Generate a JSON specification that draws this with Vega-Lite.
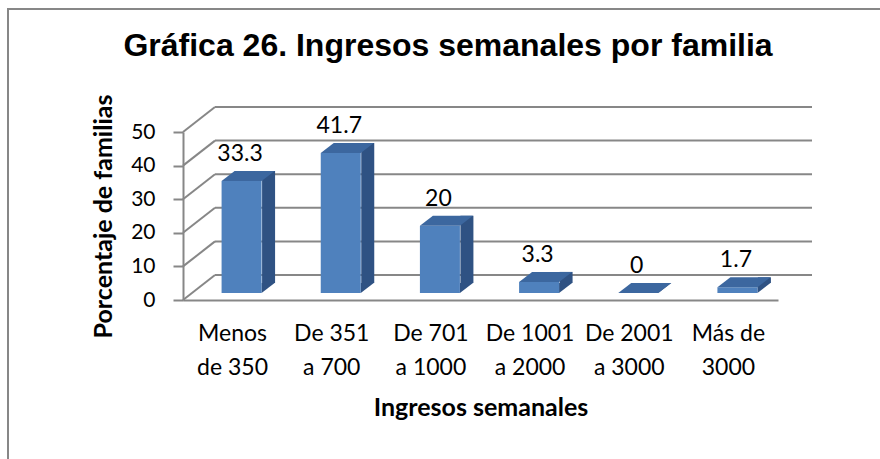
{
  "$schema": "https://vega.github.io/schema/vega-lite/v6.json",
  "width": 872,
  "height": 450,
  "autosize": {"type": "none"},
  "padding": {"left": 8, "top": 9, "right": 0, "bottom": 0},
  "background": "white",
  "config": {
    "view": {"stroke": "#878787", "strokeWidth": 2, "strokeDash": [872, 1322, 450]},
    "font": "Lato"
  },
  "title": {
    "text": "Gráfica 26. Ingresos semanales por familia",
    "font": "Liberation Sans",
    "fontSize": 32,
    "fontWeight": "bold",
    "color": "#000000",
    "anchor": "middle",
    "frame": "group",
    "baseline": "alphabetic",
    "offset": -79,
    "dx": 4
  },
  "datasets": {
    "bars": [
      {"cat": "Menos\nde 350", "pct": 33.3},
      {"cat": "De 351\na 700", "pct": 41.7},
      {"cat": "De 701\na 1000", "pct": 20},
      {"cat": "De 1001\na 2000", "pct": 3.3},
      {"cat": "De 2001\na 3000", "pct": 0},
      {"cat": "Más de\n3000", "pct": 1.7}
    ],
    "grid": [{"v": 0}, {"v": 10}, {"v": 20}, {"v": 30}, {"v": 40}, {"v": 50}],
    "one": [{"k": 1}]
  },
  "encoding": {
    "x": {
      "field": "cat",
      "type": "nominal",
      "sort": null,
      "scale": {
        "domain": ["Menos\nde 350", "De 351\na 700", "De 701\na 1000", "De 1001\na 2000", "De 2001\na 3000", "Más de\n3000"],
        "range": [175, 770],
        "paddingInner": 0,
        "paddingOuter": 0
      },
      "axis": {
        "orient": "bottom",
        "offset": -159,
        "labelAngle": 0,
        "labelExpr": "split(datum.label, '\\n')",
        "labelFont": "Lato",
        "labelFontSize": 23,
        "labelLineHeight": 34,
        "labelColor": "#000000",
        "labelPadding": 22,
        "ticks": false,
        "domainColor": "#878787",
        "domainWidth": 2,
        "title": "Ingresos semanales",
        "titleFont": "Lato",
        "titleFontSize": 25,
        "titleFontWeight": "bold",
        "titleColor": "#000000",
        "titlePadding": 16
      }
    },
    "y": {
      "field": "pct",
      "type": "quantitative",
      "scale": {"domain": [0, 50], "range": [291, 123], "nice": false, "zero": true},
      "axis": {
        "orient": "left",
        "offset": -175,
        "values": [0, 10, 20, 30, 40, 50],
        "grid": false,
        "domainColor": "#878787",
        "domainWidth": 2,
        "tickColor": "#878787",
        "tickWidth": 2,
        "tickSize": 10,
        "labelFont": "Lato",
        "labelFontSize": 21,
        "labelColor": "#000000",
        "labelPadding": 18,
        "title": "Porcentaje de familias",
        "titleFont": "Lato",
        "titleFontSize": 25,
        "titleFontWeight": "bold",
        "titleColor": "#000000",
        "titlePadding": 14
      }
    }
  },
  "layer": [
    {
      "data": {"name": "grid"},
      "mark": {"type": "rule", "color": "#878787", "strokeWidth": 2, "xOffset": 32, "x2Offset": 34, "yOffset": -25},
      "encoding": {
        "x": {"datum": "Menos\nde 350", "type": "nominal", "bandPosition": 0},
        "x2": {"datum": "Más de\n3000", "bandPosition": 1},
        "y": {"field": "v", "type": "quantitative"}
      }
    },
    {
      "data": {"name": "grid"},
      "mark": {"type": "rule", "color": "#878787", "strokeWidth": 2, "x2Offset": 32, "y2Offset": -25},
      "encoding": {
        "x": {"datum": "Menos\nde 350", "type": "nominal", "bandPosition": 0},
        "x2": {"datum": "Menos\nde 350", "bandPosition": 0},
        "y": {"field": "v", "type": "quantitative"},
        "y2": {"field": "v"}
      }
    },
    {
      "data": {"name": "one"},
      "mark": {"type": "rule", "color": "#878787", "strokeWidth": 2, "x2Offset": 34, "y2Offset": -25},
      "encoding": {
        "x": {"datum": "Más de\n3000", "type": "nominal", "bandPosition": 1},
        "x2": {"datum": "Más de\n3000", "bandPosition": 1},
        "y": {"datum": 0, "type": "quantitative"},
        "y2": {"datum": 0}
      }
    },
    {
      "data": {"name": "bars"},
      "mark": {"type": "bar", "color": "#2f5283", "width": 13, "xOffset": 36, "yOffset": -17, "y2Offset": -17},
      "encoding": {"y2": {"datum": 0}}
    },
    {
      "data": {"name": "bars"},
      "mark": {"type": "point", "shape": "M 20 0 L 33 -10 L 20 -10 Z", "size": 4, "filled": true, "opacity": 1, "color": "#2f5283", "strokeWidth": 0, "xOffset": 9, "yOffset": -7},
      "encoding": {"y": {"datum": 0, "type": "quantitative"}}
    },
    {
      "data": {"name": "bars"},
      "mark": {"type": "bar", "color": "#4f81bd", "width": 40, "xOffset": 9, "yOffset": -7, "y2Offset": -7},
      "encoding": {"y2": {"datum": 0}}
    },
    {
      "data": {"name": "bars"},
      "mark": {"type": "point", "shape": "M -20 0 L 20 0 L 33 -10 L -7 -10 Z", "size": 4, "filled": true, "opacity": 1, "color": "#3c679f", "strokeWidth": 0, "xOffset": 9, "yOffset": -7}
    },
    {
      "data": {"name": "bars"},
      "mark": {"type": "text", "font": "Lato", "fontSize": 23, "color": "#000000", "align": "center", "baseline": "alphabetic", "xOffset": 7.5, "yOffset": -27},
      "encoding": {"text": {"field": "pct", "type": "quantitative", "format": ".2~f"}}
    }
  ]
}
